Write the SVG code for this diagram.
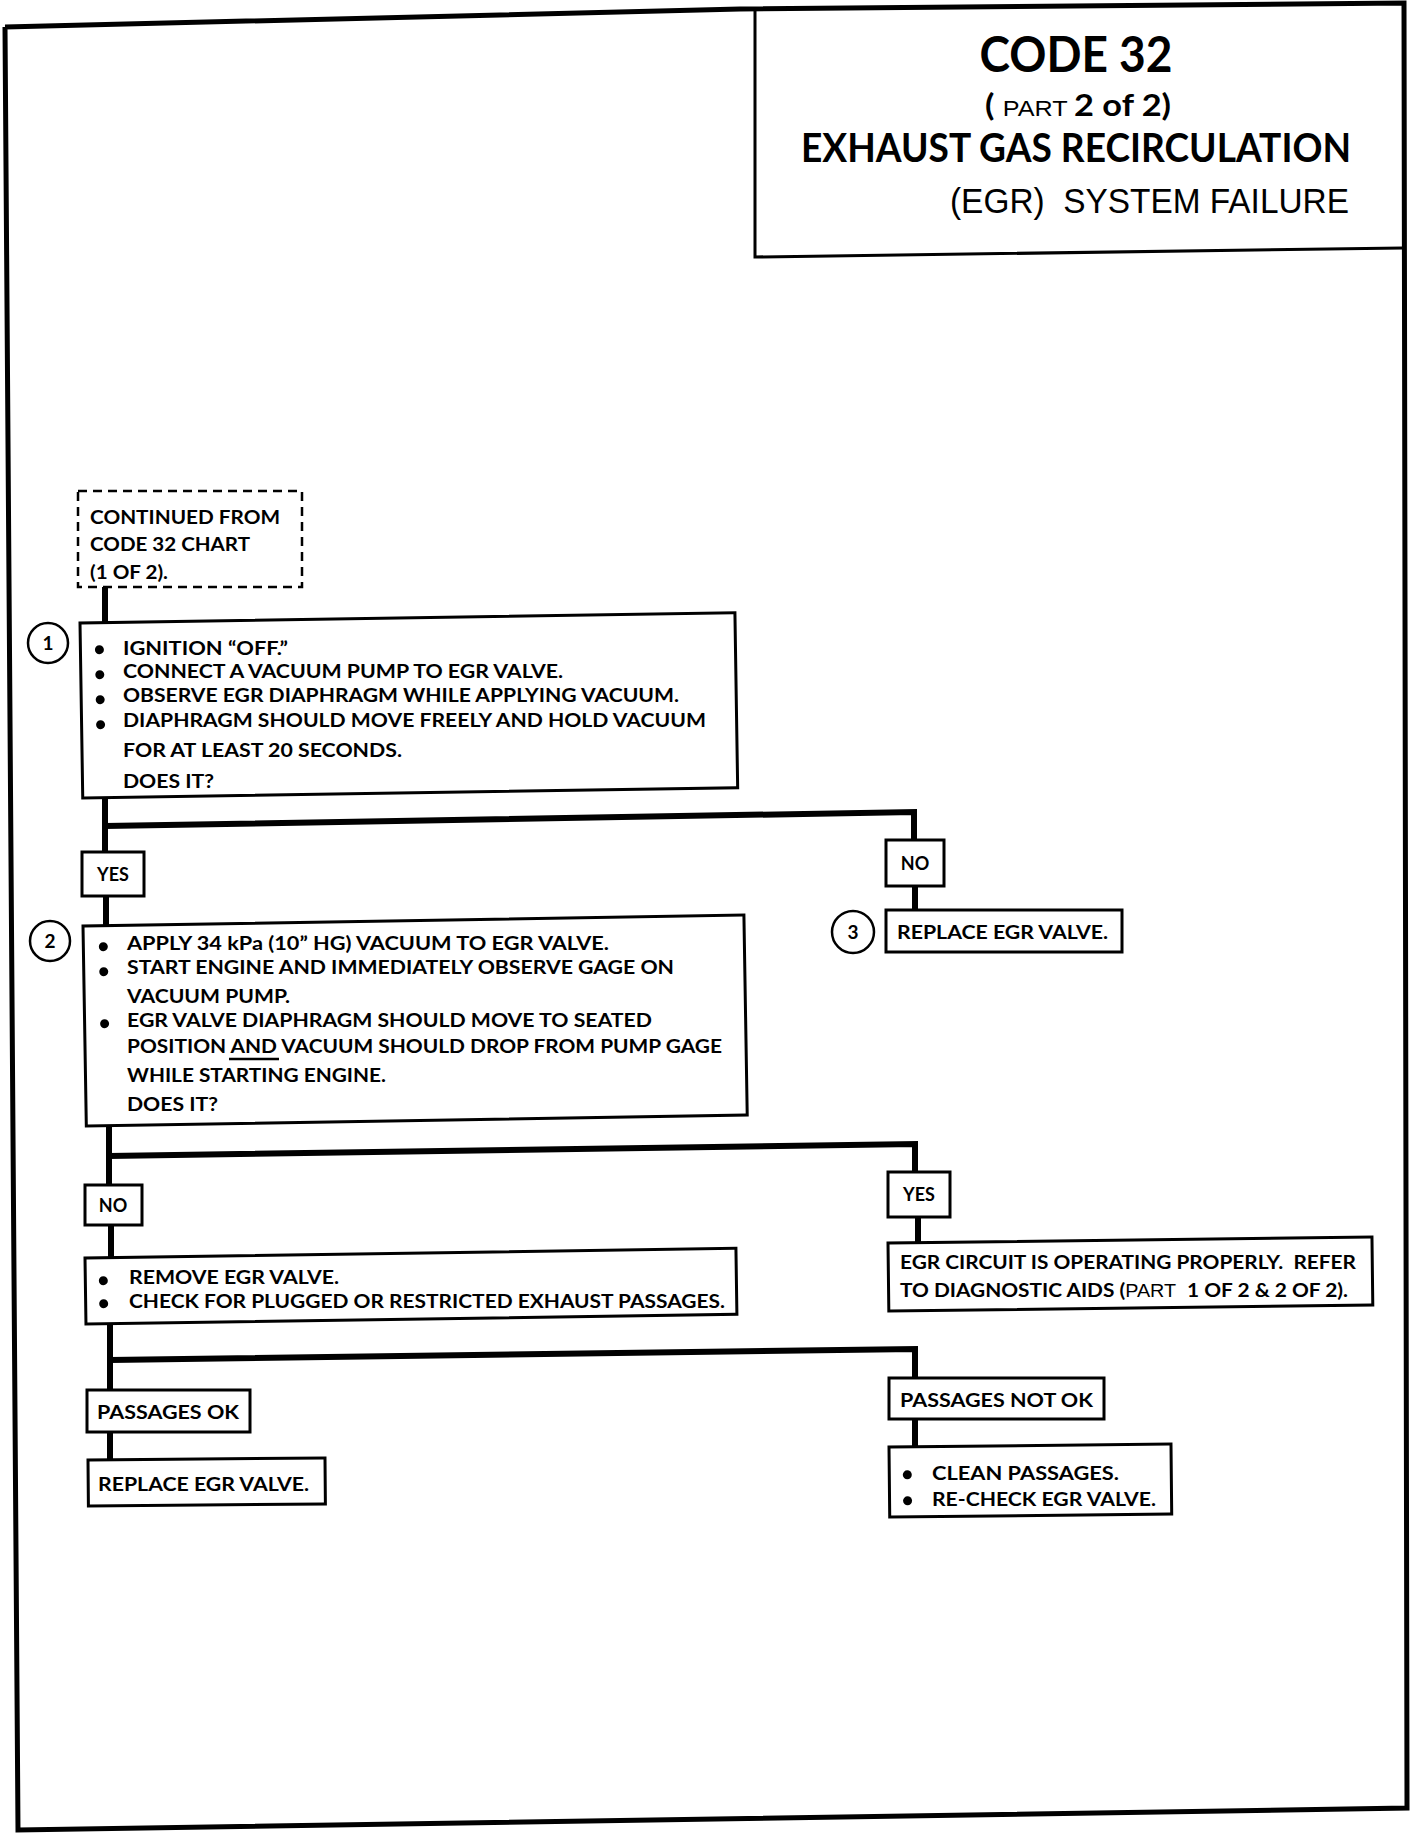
<svg xmlns="http://www.w3.org/2000/svg" width="1424" height="1834" viewBox="0 0 1424 1834">
<style>
.b{font-family:Lato,"Open Sans","Liberation Sans",sans-serif;font-weight:700;fill:#000}
.r{font-family:"Liberation Sans",Arial,sans-serif;font-weight:400;fill:#000}
.t{font-size:19px}
.box{fill:#fff;stroke:#000;stroke-width:3}
.lbl{fill:#fff;stroke:#000;stroke-width:3}
.con{fill:none;stroke:#000;stroke-width:6;stroke-linejoin:miter}
.num{fill:#fff;stroke:#000;stroke-width:2.5}
</style>
<rect width="1424" height="1834" fill="#fff"/>
<g id="page">
<polyline points="5,27 740,9 1404,3 1407,1808 18,1830 5,27" fill="none" stroke="#000" stroke-width="5"/>
</g>
<g id="title">
<polyline points="755,10 755,257 1403,248" fill="none" stroke="#000" stroke-width="3"/>
<text class="b" x="1076" y="72" font-size="50" text-anchor="middle" textLength="193" lengthAdjust="spacingAndGlyphs">CODE 32</text>
<text x="985" y="115.5" textLength="186" lengthAdjust="spacingAndGlyphs"><tspan class="b" font-size="30">(&#160;</tspan><tspan class="r" font-size="22">PART </tspan><tspan class="b" font-size="30">2 of 2)</tspan></text>
<text class="b" x="801" y="162" font-size="40" textLength="550" lengthAdjust="spacingAndGlyphs">EXHAUST GAS RECIRCULATION</text>
<text class="r" x="950" y="213" font-size="35" textLength="399" lengthAdjust="spacingAndGlyphs">(EGR)&#160; SYSTEM FAILURE</text>
</g>
<g id="connectors">
<path class="con" d="M105,587 V624"/>
<path class="con" d="M105,797 V854"/>
<path class="con" d="M105,826 L914,812 V842"/>
<path class="con" d="M106,894 V928"/>
<path class="con" d="M915,884 V912"/>
<path class="con" d="M109,1125 V1187"/>
<path class="con" d="M109,1156 L915,1144 V1174"/>
<path class="con" d="M111,1223 V1260"/>
<path class="con" d="M918,1215 V1245"/>
<path class="con" d="M110,1322 V1392"/>
<path class="con" d="M110,1360 L915,1349 V1380"/>
<path class="con" d="M110,1430 V1462"/>
<path class="con" d="M915,1417 V1449"/>
</g>
<g id="start">
<rect x="78" y="491" width="224" height="96" fill="#fff" stroke="#000" stroke-width="2.5" stroke-dasharray="9,6"/>
<text class="b t" x="90" y="524" textLength="190" lengthAdjust="spacingAndGlyphs">CONTINUED FROM</text>
<text class="b t" x="90" y="551" textLength="160" lengthAdjust="spacingAndGlyphs">CODE 32 CHART</text>
<text class="b t" x="90" y="579" textLength="78" lengthAdjust="spacingAndGlyphs">(1 OF 2).</text>
</g>
<g id="step1">
<circle class="num" cx="48" cy="643" r="20"/>
<text class="b" x="48" y="650" font-size="19" text-anchor="middle">1</text>
<g transform="rotate(-0.9 80 623)">
<rect class="box" x="80" y="623" width="655" height="175"/>
<circle cx="99" cy="650" r="4.5"/><circle cx="99" cy="675" r="4.5"/><circle cx="99" cy="700" r="4.5"/><circle cx="99" cy="725" r="4.5"/>
</g>
<text class="b t" x="123" y="655" textLength="165" lengthAdjust="spacingAndGlyphs">IGNITION “OFF.”</text>
<text class="b t" x="123" y="678" textLength="440" lengthAdjust="spacingAndGlyphs">CONNECT A VACUUM PUMP TO EGR VALVE.</text>
<text class="b t" x="123" y="702" textLength="556" lengthAdjust="spacingAndGlyphs">OBSERVE EGR DIAPHRAGM WHILE APPLYING VACUUM.</text>
<text class="b t" x="123" y="727" textLength="583" lengthAdjust="spacingAndGlyphs">DIAPHRAGM SHOULD MOVE FREELY AND HOLD VACUUM</text>
<text class="b t" x="123" y="757" textLength="279" lengthAdjust="spacingAndGlyphs">FOR AT LEAST 20 SECONDS.</text>
<text class="b t" x="123" y="787.5" textLength="91" lengthAdjust="spacingAndGlyphs">DOES IT?</text>
</g>
<g id="yes1">
<rect class="lbl" x="82" y="852" width="62" height="44"/>
<text class="b" x="113" y="881" font-size="18" text-anchor="middle">YES</text>
</g>
<g id="no1">
<rect class="lbl" x="886" y="840" width="58" height="46"/>
<text class="b" x="915" y="870" font-size="18" text-anchor="middle">NO</text>
</g>
<g id="step3">
<circle class="num" cx="853" cy="932" r="21"/>
<text class="b" x="853" y="939" font-size="19" text-anchor="middle">3</text>
<rect class="box" x="886" y="910" width="236" height="42"/>
<text class="b t" x="897" y="939" textLength="211" lengthAdjust="spacingAndGlyphs">REPLACE EGR VALVE.</text>
</g>
<g id="step2">
<circle class="num" cx="50" cy="941" r="20"/>
<text class="b" x="50" y="948" font-size="19" text-anchor="middle">2</text>
<g transform="rotate(-0.95 83 926)">
<rect class="box" x="83" y="926" width="661" height="200"/>
<circle cx="103" cy="947" r="4.5"/><circle cx="103" cy="972" r="4.5"/><circle cx="103" cy="1024" r="4.5"/>
</g>
<text class="b t" x="127" y="949.5" textLength="482" lengthAdjust="spacingAndGlyphs">APPLY 34 kPa (10” HG) VACUUM TO EGR VALVE.</text>
<text class="b t" x="127" y="974" textLength="547" lengthAdjust="spacingAndGlyphs">START ENGINE AND IMMEDIATELY OBSERVE GAGE ON</text>
<text class="b t" x="127" y="1003" textLength="163" lengthAdjust="spacingAndGlyphs">VACUUM PUMP.</text>
<text class="b t" x="127" y="1026.5" textLength="525" lengthAdjust="spacingAndGlyphs">EGR VALVE DIAPHRAGM SHOULD MOVE TO SEATED</text>
<text class="b t" x="127" y="1052.5" textLength="595" lengthAdjust="spacingAndGlyphs">POSITION AND VACUUM SHOULD DROP FROM PUMP GAGE</text>
<line x1="229" y1="1059" x2="279" y2="1059" stroke="#000" stroke-width="2.5"/>
<text class="b t" x="127" y="1082" textLength="259" lengthAdjust="spacingAndGlyphs">WHILE STARTING ENGINE.</text>
<text class="b t" x="127" y="1110.5" textLength="91" lengthAdjust="spacingAndGlyphs">DOES IT?</text>
</g>
<g id="no2">
<rect class="lbl" x="85" y="1185" width="57" height="40"/>
<text class="b" x="113" y="1212" font-size="18" text-anchor="middle">NO</text>
</g>
<g id="yes2">
<rect class="lbl" x="888" y="1172" width="62" height="45"/>
<text class="b" x="919" y="1201" font-size="18" text-anchor="middle">YES</text>
</g>
<g id="remove">
<g transform="rotate(-0.85 85 1258)">
<rect class="box" x="85" y="1258" width="651" height="66"/>
<circle cx="103" cy="1281" r="4.5"/><circle cx="103" cy="1304" r="4.5"/>
</g>
<text class="b t" x="129" y="1284" textLength="210" lengthAdjust="spacingAndGlyphs">REMOVE EGR VALVE.</text>
<text class="b t" x="129" y="1307.5" textLength="596" lengthAdjust="spacingAndGlyphs">CHECK FOR PLUGGED OR RESTRICTED EXHAUST PASSAGES.</text>
</g>
<g id="ok">
<g transform="rotate(-0.7 888 1243)">
<rect class="box" x="888" y="1243" width="484" height="68"/>
</g>
<text class="b t" x="900" y="1269" textLength="456" lengthAdjust="spacingAndGlyphs">EGR CIRCUIT IS OPERATING PROPERLY.&#160; REFER</text>
<text x="900" y="1297" textLength="448" lengthAdjust="spacingAndGlyphs"><tspan class="b t">TO DIAGNOSTIC AIDS (</tspan><tspan class="r" font-size="18">PART&#160; </tspan><tspan class="b t">1 OF 2 &amp; 2 OF 2).</tspan></text>
</g>
<g id="passok">
<rect class="lbl" x="87" y="1390" width="163" height="42"/>
<text class="b t" x="97" y="1419" textLength="142" lengthAdjust="spacingAndGlyphs">PASSAGES OK</text>
</g>
<g id="replace2">
<g transform="rotate(-0.5 88 1460)">
<rect class="box" x="88" y="1460" width="237" height="46"/>
</g>
<text class="b t" x="98" y="1491" textLength="211" lengthAdjust="spacingAndGlyphs">REPLACE EGR VALVE.</text>
</g>
<g id="passnotok">
<rect class="lbl" x="889" y="1378" width="215" height="41"/>
<text class="b t" x="900" y="1407" textLength="193" lengthAdjust="spacingAndGlyphs">PASSAGES NOT OK</text>
</g>
<g id="clean">
<g transform="rotate(-0.6 889 1447)">
<rect class="box" x="889" y="1447" width="282" height="70"/>
<circle cx="907" cy="1475" r="4.5"/><circle cx="907" cy="1501" r="4.5"/>
</g>
<text class="b t" x="932" y="1479.5" textLength="187" lengthAdjust="spacingAndGlyphs">CLEAN PASSAGES.</text>
<text class="b t" x="932" y="1505.5" textLength="224" lengthAdjust="spacingAndGlyphs">RE-CHECK EGR VALVE.</text>
</g>
</svg>
